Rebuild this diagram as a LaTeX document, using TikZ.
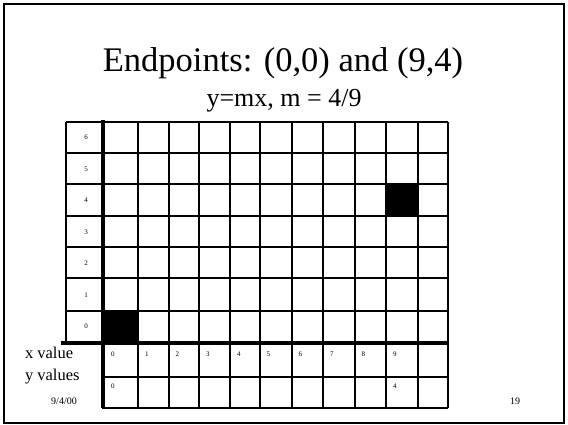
\documentclass[tikz,border=0pt]{standalone}
\usepackage{fontspec}
\setmainfont{Liberation Serif}
\begin{document}
\begin{tikzpicture}[x=1pt, y=-1pt, line width=2pt,
  tick/.style={font=\fontsize{7}{8}\selectfont, inner sep=0pt, anchor=north west},
  rowlab/.style={font=\fontsize{7}{8}\selectfont, inner sep=0pt},
  sidelab/.style={font=\fontsize{16.5}{18}\selectfont, inner sep=0pt, anchor=base west},
  footlab/.style={font=\fontsize{10}{11}\selectfont, inner sep=0pt, anchor=base}]
  \useasboundingbox (0,0) rectangle (568,424);
  % slide frame
  \draw[line width=1.5pt] (4,4) rectangle (564,423);
  % titles
  \node[font=\fontsize{34.5}{38}\selectfont, inner sep=0pt, anchor=base] (title) at (283,71) {Endpoints: (0,0) and (9,4)};
  \node[font=\fontsize{26}{30}\selectfont, inner sep=0pt, anchor=base] (sub) at (284,106) {y=mx, m = 4/9};
  % filled pixels
  \fill (104,311) rectangle (138,343);
  \fill (386,184) rectangle (417.5,216);
  % pixel grid, rows 6 down to 0
  \foreach \y in {122,153,184,216,247,278,311}
    \draw (66,\y) -- (448,\y);
  \draw (66,122) -- (66,343);
  \foreach \x in {138,168.5,199,230,259.5,291.5,323,354.5,386,417.5,448}
    \draw (\x,122) -- (\x,408);
  % table of x and y values
  \draw (104,377) -- (448,377);
  \draw (102,408) -- (448,408);
  \draw[line width=4.5pt] (103,120) -- (103,408);
  \draw[line width=4.5pt] (61,343) -- (449,343);
  % row numbers
  \foreach \n [count=\i from 0] in {6,5,4,3,2,1,0}
    \node[rowlab] (r\n) at (86,137.5+31.5*\i) {\n};
  % x values
  \foreach \x [count=\i from 0] in {104,138,168.5,199,230,259.5,291.5,323,354.5,386}
    \node[tick] (xv\i) at (\x+6,351) {\i};
  % y values
  \node[tick] (yv0) at (110,383) {0};
  \node[tick] (yv9) at (392,383) {4};
  % side labels
  \node[sidelab] (xlab) at (24,358) {x value};
  \node[sidelab] (ylab) at (24,380) {y values};
  \node[footlab] (date) at (64,404) {9/4/00};
  \node[footlab] (page) at (515,404) {19};
\end{tikzpicture}
\end{document}
